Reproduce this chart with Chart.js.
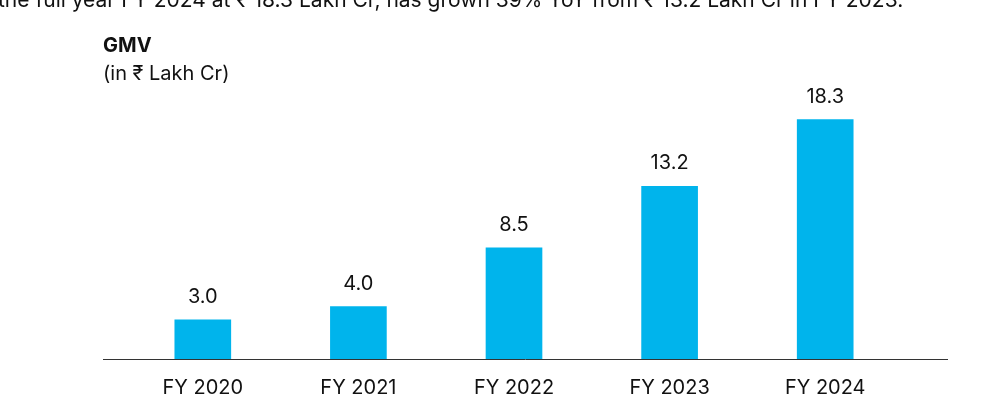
<!DOCTYPE html>
<html>
<head>
<meta charset="utf-8">
<script src="https://cdn.jsdelivr.net/npm/chart.js@4"></script>
<style>
  html, body { margin: 0; padding: 0; background: #fff; }
  #wrap { width: 996px; height: 420px; position: relative; }
</style>
</head>
<body>
<div id="wrap"><canvas id="gmvChart" width="996" height="420"></canvas></div>
<script>
const categories = ['FY 2020', 'FY 2021', 'FY 2022', 'FY 2023', 'FY 2024'];
const gmvValues = [3.0, 4.0, 8.5, 13.2, 18.3];
const valueLabels = ['3.0', '4.0', '8.5', '13.2', '18.3'];

const FONT = 'Inter, "Noto Sans", sans-serif';

// texts, baseline and value labels drawn on top of the chart
const decorations = {
    id: 'decorations',
    afterDatasetsDraw(chart) {
        const c = chart.ctx;
        const y0 = chart.scales.y.getPixelForValue(0);
        c.save();
        c.strokeStyle = '#333';
        c.lineWidth = 1;
        c.beginPath();
        c.moveTo(103, Math.round(y0) + 0.5);
        c.lineTo(948, Math.round(y0) + 0.5);
        c.stroke();

        c.fillStyle = '#111';
        c.textBaseline = 'alphabetic';
        c.textAlign = 'left';
        c.font = '21px ' + FONT;
        c.fillText('the full year FY 2024 at ₹ 18.3 Lakh Cr, has grown 39% YoY from ₹ 13.2 Lakh Cr in FY 2023.', -2, 7);
        c.font = 'bold 20px ' + FONT;
        c.fillText('GMV', 103, 52);
        c.font = '20px ' + FONT;
        c.fillText('(in ₹ Lakh Cr)', 103, 80);

        c.textAlign = 'center';
        c.font = '20px ' + FONT;
        const meta = chart.getDatasetMeta(0);
        meta.data.forEach((bar, i) => {
            c.fillText(valueLabels[i], bar.x, bar.y - 17);
        });
        c.restore();
    }
};

new Chart(document.getElementById('gmvChart').getContext('2d'), {
    type: 'bar',
    data: {
        labels: categories,
        datasets: [{
            data: gmvValues,
            backgroundColor: '#00b4ec',
            barThickness: 56
        }]
    },
    options: {
        responsive: false,
        animation: false,
        layout: { padding: { left: 125, right: 93, top: 100, bottom: 3 } },
        plugins: { legend: { display: false }, tooltip: { enabled: false } },
        scales: {
            x: {
                grid: { display: false, drawTicks: false },
                border: { display: false },
                ticks: { color: '#111', font: { family: FONT, size: 20 }, padding: 17 }
            },
            y: {
                display: false,
                min: 0,
                max: 19.8
            }
        }
    },
    plugins: [decorations]
});
</script>
</body>
</html>
